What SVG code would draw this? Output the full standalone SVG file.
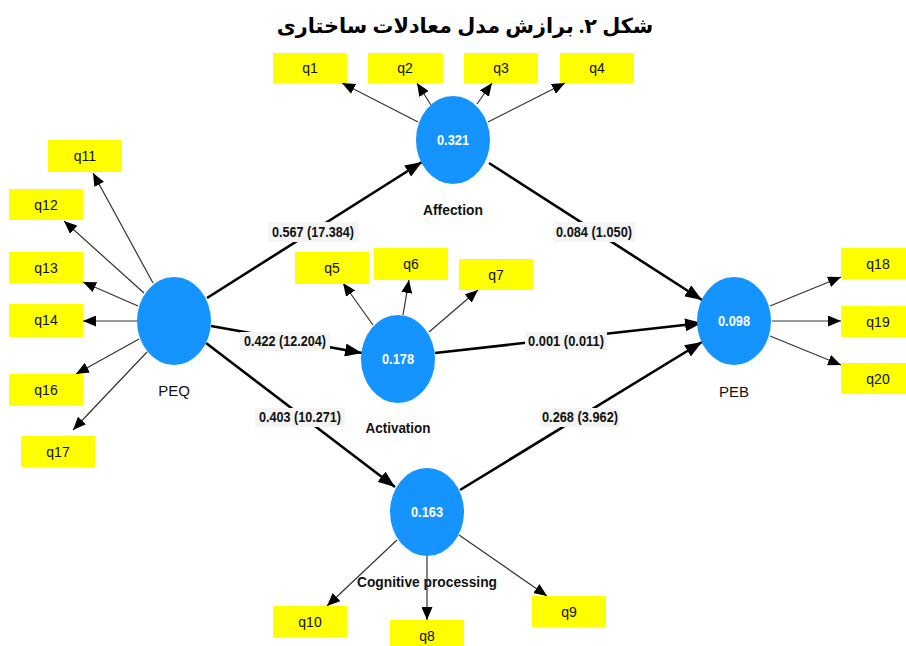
<svg xmlns="http://www.w3.org/2000/svg" width="906" height="646" viewBox="0 0 906 646">
<defs>
<marker id="ah" markerUnits="userSpaceOnUse" markerWidth="13" markerHeight="11" refX="13" refY="5.5" orient="auto"><path d="M0,0 L13,5.5 L0,11 z" fill="#000"/></marker>
<marker id="ahb" markerUnits="userSpaceOnUse" markerWidth="17" markerHeight="13" refX="17" refY="6.5" orient="auto"><path d="M0,0 L17,6.5 L0,13 z" fill="#000"/></marker>
</defs>
<style>
.ind{fill:#ffff00}
.it{font-family:"Liberation Sans",Arial,sans-serif;font-size:14px;fill:#111;text-anchor:middle}
.lv{fill:#1594ff}
.lvv{font-family:"Liberation Sans",Arial,sans-serif;font-size:14px;font-weight:bold;fill:#fff;text-anchor:middle}
.nm{font-family:"Liberation Sans",Arial,sans-serif;font-size:15px;fill:#111;text-anchor:middle}
.nb{font-weight:bold}
.thin{stroke:#333;stroke-width:1.2;fill:none;marker-end:url(#ah)}
.thick{stroke:#000;stroke-width:2.6;fill:none;marker-end:url(#ahb)}
.lb{fill:#f4f4f4}
.lt{font-family:"Liberation Sans",Arial,sans-serif;font-size:14px;font-weight:bold;fill:#111;text-anchor:middle}
.title{font-family:"Liberation Serif","DejaVu Sans",serif;font-size:20.8px;font-weight:bold;fill:#000;text-anchor:middle}
</style>
<rect width="906" height="646" fill="#fff"/>
<text class="title" x="465" y="33" direction="rtl">شکل ۲. برازش مدل معادلات ساختاری</text>

<g id="connectors">
<line class="thin" x1="418" y1="122" x2="342" y2="83"/>
<line class="thin" x1="431" y1="105" x2="417" y2="83"/>
<line class="thin" x1="477" y1="104" x2="492" y2="83"/>
<line class="thin" x1="488" y1="122" x2="565" y2="83"/>
<line class="thin" x1="153" y1="283" x2="93" y2="173"/>
<line class="thin" x1="144" y1="293" x2="64" y2="221"/>
<line class="thin" x1="138" y1="306" x2="83" y2="282"/>
<line class="thin" x1="137" y1="321" x2="83" y2="321"/>
<line class="thin" x1="139" y1="339" x2="76" y2="374"/>
<line class="thin" x1="147" y1="352" x2="73" y2="430"/>
<line class="thin" x1="373" y1="325" x2="343" y2="283"/>
<line class="thin" x1="403" y1="315" x2="409" y2="280"/>
<line class="thin" x1="429" y1="332" x2="478" y2="290"/>
<line class="thin" x1="770" y1="306" x2="841" y2="277"/>
<line class="thin" x1="772" y1="321" x2="841" y2="321"/>
<line class="thin" x1="770" y1="336" x2="841" y2="365"/>
<line class="thin" x1="397" y1="540" x2="327" y2="606"/>
<line class="thin" x1="427" y1="556" x2="427" y2="620"/>
<line class="thin" x1="459" y1="535" x2="547" y2="596"/>
<line class="thick" x1="207" y1="298" x2="422" y2="162"/>
<line class="thick" x1="211" y1="326" x2="362" y2="353"/>
<line class="thick" x1="206" y1="343" x2="395" y2="487"/>
<line class="thick" x1="489" y1="163" x2="702" y2="300"/>
<line class="thick" x1="435" y1="353" x2="702" y2="323"/>
<line class="thick" x1="460" y1="490" x2="702" y2="342"/>
<g id="path-labels">
<rect class="lb" x="268" y="222" width="91" height="20"/><text class="lt" x="313" y="237" textLength="82" lengthAdjust="spacingAndGlyphs">0.567 (17.384)</text>
<rect class="lb" x="553" y="222" width="82" height="20"/><text class="lt" x="594" y="237" textLength="76" lengthAdjust="spacingAndGlyphs">0.084 (1.050)</text>
<rect class="lb" x="240" y="332" width="90" height="19"/><text class="lt" x="285" y="346" textLength="82" lengthAdjust="spacingAndGlyphs">0.422 (12.204)</text>
<rect class="lb" x="525" y="332" width="82" height="19"/><text class="lt" x="566" y="346" textLength="76" lengthAdjust="spacingAndGlyphs">0.001 (0.011)</text>
<rect class="lb" x="255" y="408" width="90" height="19"/><text class="lt" x="300" y="422" textLength="82" lengthAdjust="spacingAndGlyphs">0.403 (10.271)</text>
<rect class="lb" x="540" y="408" width="80" height="19"/><text class="lt" x="580" y="422" textLength="76" lengthAdjust="spacingAndGlyphs">0.268 (3.962)</text>
</g>
</g>

<g id="q1"><rect class="ind" x="273" y="53" width="74" height="30"/><text class="it" x="310" y="73">q1</text></g>
<g id="q2"><rect class="ind" x="368" y="53" width="75" height="30"/><text class="it" x="405" y="73">q2</text></g>
<g id="q3"><rect class="ind" x="464" y="53" width="74" height="30"/><text class="it" x="501" y="73">q3</text></g>
<g id="q4"><rect class="ind" x="560" y="53" width="74" height="30"/><text class="it" x="597" y="73">q4</text></g>
<g id="q11"><rect class="ind" x="48" y="140" width="74" height="32"/><text class="it" x="85" y="161">q11</text></g>
<g id="q12"><rect class="ind" x="9" y="189" width="74" height="31"/><text class="it" x="46" y="210">q12</text></g>
<g id="q13"><rect class="ind" x="9" y="252" width="74" height="31"/><text class="it" x="46" y="273">q13</text></g>
<g id="q14"><rect class="ind" x="9" y="304" width="74" height="33"/><text class="it" x="46" y="325">q14</text></g>
<g id="q16"><rect class="ind" x="9" y="374" width="74" height="32"/><text class="it" x="46" y="395">q16</text></g>
<g id="q17"><rect class="ind" x="21" y="436" width="74" height="31"/><text class="it" x="58" y="457">q17</text></g>
<g id="q5"><rect class="ind" x="295" y="252" width="74" height="32"/><text class="it" x="332" y="273">q5</text></g>
<g id="q6"><rect class="ind" x="374" y="248" width="74" height="32"/><text class="it" x="411" y="269">q6</text></g>
<g id="q7"><rect class="ind" x="459" y="259" width="74" height="31"/><text class="it" x="496" y="280">q7</text></g>
<g id="q18"><rect class="ind" x="841" y="248" width="65" height="31"/><text class="it" x="878" y="269">q18</text></g>
<g id="q19"><rect class="ind" x="841" y="306" width="65" height="31"/><text class="it" x="878" y="327">q19</text></g>
<g id="q20"><rect class="ind" x="841" y="363" width="65" height="31"/><text class="it" x="878" y="384">q20</text></g>
<g id="q10"><rect class="ind" x="273" y="606" width="74" height="31"/><text class="it" x="310" y="627">q10</text></g>
<g id="q8"><rect class="ind" x="390" y="620" width="74" height="26"/><text class="it" x="427" y="641">q8</text></g>
<g id="q9"><rect class="ind" x="532" y="596" width="74" height="31"/><text class="it" x="569" y="617">q9</text></g>

<g id="Affection"><ellipse class="lv" cx="453" cy="140" rx="37" ry="44"/><text class="lvv" x="453" y="145" textLength="32" lengthAdjust="spacingAndGlyphs">0.321</text><text class="nm nb" x="453" y="215" textLength="60" lengthAdjust="spacingAndGlyphs">Affection</text></g>
<g id="PEQ"><ellipse class="lv" cx="174" cy="321" rx="37" ry="44"/><text class="nm" x="174" y="396">PEQ</text></g>
<g id="Activation"><ellipse class="lv" cx="398" cy="359" rx="37" ry="44"/><text class="lvv" x="398" y="364" textLength="32" lengthAdjust="spacingAndGlyphs">0.178</text><text class="nm nb" x="398" y="433" textLength="65" lengthAdjust="spacingAndGlyphs">Activation</text></g>
<g id="PEB"><ellipse class="lv" cx="734" cy="321" rx="37" ry="44"/><text class="lvv" x="734" y="326" textLength="32" lengthAdjust="spacingAndGlyphs">0.098</text><text class="nm" x="734" y="397">PEB</text></g>
<g id="Cognitive"><ellipse class="lv" cx="427" cy="512" rx="37" ry="44"/><text class="lvv" x="427" y="517" textLength="32" lengthAdjust="spacingAndGlyphs">0.163</text><text class="nm nb" x="427" y="587" font-size="16" textLength="140" lengthAdjust="spacingAndGlyphs">Cognitive processing</text></g>
</svg>
